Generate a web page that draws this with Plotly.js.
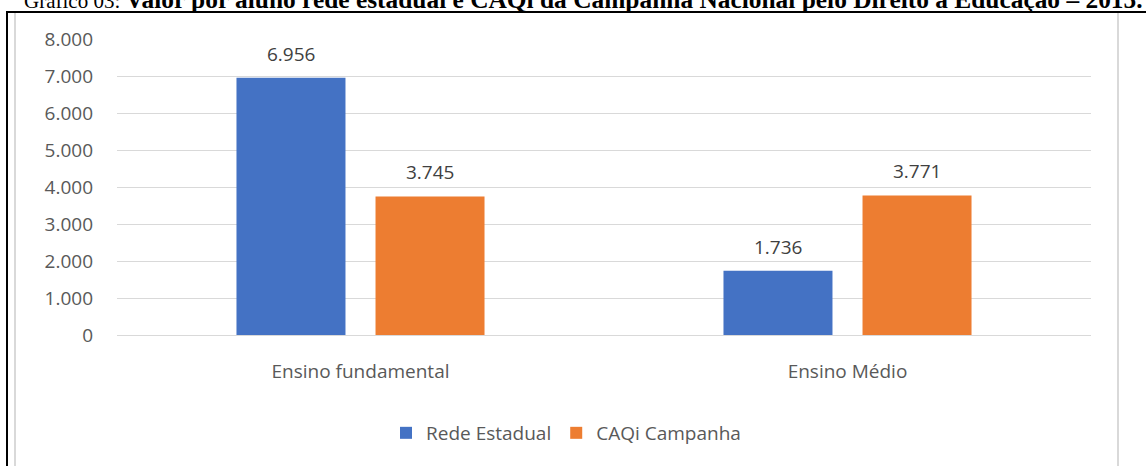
<!DOCTYPE html>
<html>
<head>
<meta charset="utf-8">
<script src="https://cdn.plot.ly/plotly-3.0.1.min.js"></script>
<style>
  html, body { margin: 0; padding: 0; background: #ffffff; overflow: hidden; }
  #chart { position: absolute; left: 0; top: 0; width: 1146px; height: 466px; }
  .frame { position: absolute; z-index: 5; pointer-events: none; }
</style>
</head>
<body>
<div id="chart"></div>
<div class="frame" style="left:6px; top:11px; width:1140px; height:2px; background:#000;"></div>
<div class="frame" style="left:6px; top:11px; width:2px; height:455px; background:#000;"></div>
<div class="frame" style="left:14px; top:13px; width:2px; height:453px; background:#d9d9d9;"></div>
<div class="frame" style="left:1117px; top:13px; width:2px; height:453px; background:#d9d9d9;"></div>
<script>
// ---- Data ----
const categories = ["Ensino fundamental", "Ensino Médio"];
const seriesNames = ["Rede Estadual", "CAQi Campanha"];
const redeEstadual = [6956, 1736];
const caqiCampanha = [3745, 3771];
const yTickValues = [0, 1000, 2000, 3000, 4000, 5000, 6000, 7000, 8000];
const titlePrefix = "Gráfico 03: ";
const titleBold = "Valor por aluno rede estadual e CAQi da Campanha Nacional pelo Direito à Educação – 2015.";

// ---- Styling ----
const colors = ["#4472C4", "#ED7D31"];
const FONT = "Open Sans, sans-serif";
const BARGAP = 0.429;
const BARGROUPGAP = 0.216;

function fmt(v) {
  return String(v).replace(/\B(?=(\d{3})+(?!\d))/g, ".");
}

const allSeries = [redeEstadual, caqiCampanha];
const traces = allSeries.map((vals, i) => ({
  type: "bar",
  name: seriesNames[i],
  x: categories,
  y: vals,
  marker: { color: colors[i], line: { width: 0 } },
  hoverinfo: "none"
}));

// data labels: placed at each bar's value, offset by the group slot derived from bargap
const slot = (1 - BARGAP) / allSeries.length;
const annotations = [];
allSeries.forEach((vals, si) => {
  vals.forEach((v, ci) => {
    annotations.push({
      xref: "x", yref: "y",
      x: ci + (si - (allSeries.length - 1) / 2) * slot,
      y: v,
      text: fmt(v),
      showarrow: false,
      yanchor: "middle",
      yshift: 24,
      font: { family: FONT, size: 19, color: "#404040" }
    });
  });
});

// title (clipped at top like the reference)
annotations.push({
  xref: "paper", yref: "paper",
  x: -0.0975, xanchor: "left",
  y: 1.136, yanchor: "middle",
  text: titlePrefix + "<span style=\"font-size:25.4px\"><b>" + titleBold + "</b></span>",
  showarrow: false,
  font: { family: "Liberation Serif, Times New Roman, serif", size: 21, color: "#000000" }
});

const layout = {
  width: 1146,
  height: 466,
  margin: { l: 117, r: 55, t: 39, b: 131 },
  paper_bgcolor: "#ffffff",
  plot_bgcolor: "#ffffff",
  barmode: "group",
  bargap: BARGAP,
  bargroupgap: BARGROUPGAP,
  showlegend: true,
  legend: {
    orientation: "h",
    x: 0.461, xanchor: "center",
    y: -0.331, yanchor: "middle",
    font: { family: FONT, size: 19, color: "#595959" },
    itemwidth: 30,
    traceorder: "normal"
  },
  xaxis: {
    type: "category",
    showgrid: false,
    showline: false,
    zeroline: false,
    ticks: "",
    ticklabelstandoff: 23,
    tickfont: { family: FONT, size: 19, color: "#595959" },
    fixedrange: true
  },
  yaxis: {
    range: [0, 8000],
    tickvals: yTickValues,
    ticktext: yTickValues.map(fmt),
    showgrid: true,
    gridcolor: "#d9d9d9",
    gridwidth: 1,
    zeroline: true,
    zerolinecolor: "#d9d9d9",
    zerolinewidth: 1,
    showline: false,
    ticks: "",
    ticklabelstandoff: 23,
    tickfont: { family: FONT, size: 19, color: "#595959" },
    fixedrange: true
  },
  annotations: annotations
};

Plotly.newPlot("chart", traces, layout, { displayModeBar: false, staticPlot: true });
</script>
</body>
</html>
